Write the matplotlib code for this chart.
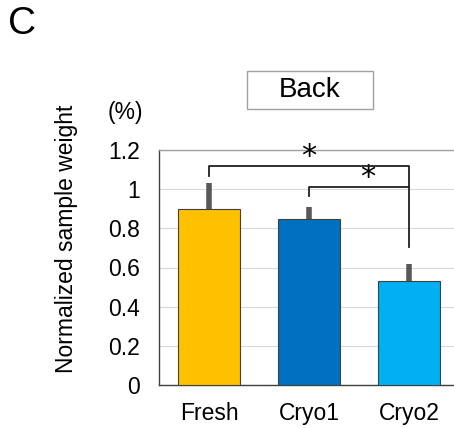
import numpy as np
import matplotlib
matplotlib.use("Agg")
import matplotlib.pyplot as plt
from matplotlib.patches import Rectangle

plt.rcParams['font.family'] = ['Liberation Sans', 'DejaVu Sans']

categories = ['Fresh', 'Cryo1', 'Cryo2']
values = [0.90, 0.85, 0.53]
errors = [0.13, 0.06, 0.09]
colors = ['#FFC000', '#0070C0', '#00B0F0']
yticks = [0, 0.2, 0.4, 0.6, 0.8, 1.0, 1.2]
ytick_labels = ['0', '0.2', '0.4', '0.6', '0.8', '1', '1.2']

W, H = 454, 428
fig = plt.figure(figsize=(W / 100, H / 100), dpi=100)
# axes runs off the right edge of the figure like in the source image
ax = fig.add_axes([159 / W, (H - 385) / H, 300 / W, 235 / H])

x = np.arange(len(categories))
ax.bar(x, values, width=0.62, color=colors, edgecolor='#404040', linewidth=0.8, zorder=3)
ax.errorbar(x, values, yerr=[np.zeros(len(errors)), errors], fmt='none',
            ecolor='#595959', elinewidth=4, capsize=0, zorder=2)

ax.set_xlim(-0.5, 2.5)
ax.set_ylim(0, 1.2)
ax.set_yticks(yticks)
ax.set_yticklabels(ytick_labels)
ax.set_xticks(x)
ax.set_xticklabels(categories)
ax.tick_params(axis='both', length=0, labelsize=16.5, colors='black')
ax.tick_params(axis='y', pad=14)
ax.tick_params(axis='x', pad=12)
ax.grid(axis='y', color='#D9D9D9', linewidth=0.8, zorder=0)
ax.set_axisbelow(True)

for side in ['left', 'bottom']:
    ax.spines[side].set_color('#404040')
    ax.spines[side].set_linewidth(1.0)
ax.spines['top'].set_color('#A0A0A0')
ax.spines['top'].set_linewidth(1.0)
ax.spines['right'].set_visible(False)

# significance brackets
lw = 1.3
ax.plot([0, 0, 2, 2], [1.067, 1.117, 1.117, 0.705], color='#202020', lw=lw, clip_on=False, zorder=4)
ax.plot([1, 1, 2], [0.965, 1.011, 1.011], color='#202020', lw=lw, clip_on=False, zorder=4)
ax.text(1.0, 1.165, '*', ha='center', va='center', fontsize=22, family='DejaVu Sans', clip_on=False)
ax.text(1.59, 1.06, '*', ha='center', va='center', fontsize=22, family='DejaVu Sans', clip_on=False)

ax.set_ylabel('Normalized sample weight', fontsize=16.5)
ax.yaxis.set_label_coords((67 - 159) / 300, (385 - 239) / 235)
ax.yaxis.label.set_verticalalignment('center')

fig.text(125 / W, 1 - 112 / H, '(%)', ha='center', va='center', fontsize=16.5)
fig.text(8 / W, 1 - 24 / H, 'C', ha='left', va='center', fontsize=28)

# title box with fixed size
fig.patches.append(Rectangle((247 / W, 1 - 109 / H), 126 / W, 38 / H, transform=fig.transFigure,
                             facecolor='white', edgecolor='#A0A0A0', linewidth=1.0))
fig.text(310 / W, 1 - 90 / H, 'Back', ha='center', va='center', fontsize=20)

fig.savefig('out.png', dpi=100)
